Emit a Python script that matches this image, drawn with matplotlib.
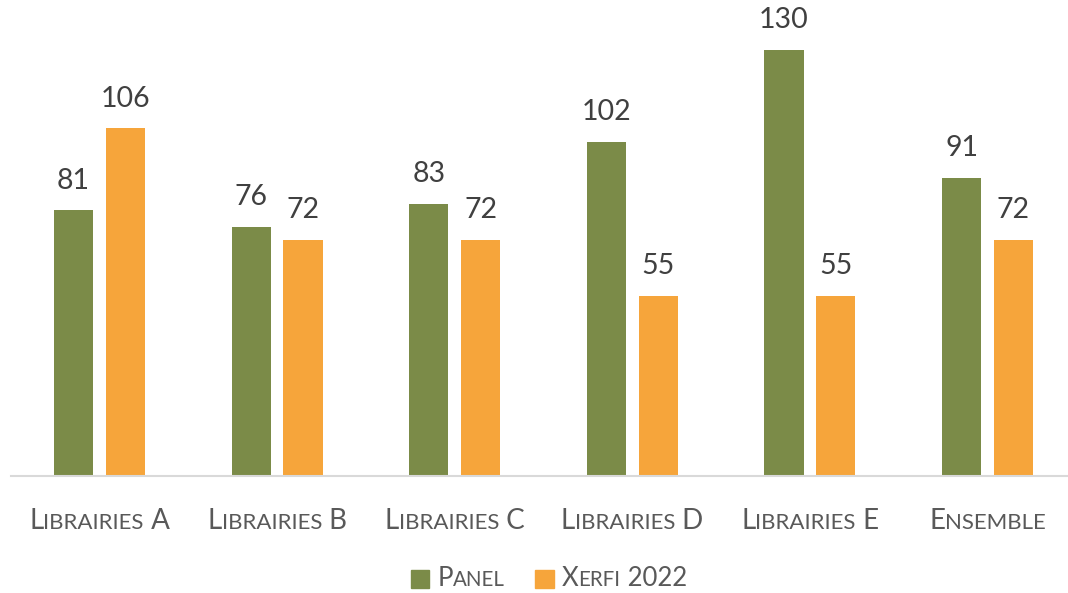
import matplotlib
matplotlib.use("Agg")
import matplotlib.pyplot as plt
import numpy as np
from matplotlib.offsetbox import TextArea, HPacker, DrawingArea, AnnotationBbox
from matplotlib.patches import Rectangle

plt.rcParams['font.family'] = ['Lato', 'DejaVu Sans']

categories = ["Librairies A", "Librairies B", "Librairies C", "Librairies D", "Librairies E", "Ensemble"]
panel = [81, 76, 83, 102, 130, 91]
xerfi = [106, 72, 72, 55, 55, 72]
series_names = ["Panel", "Xerfi 2022"]

green = "#7B8B48"
orange = "#F6A53B"
label_col = "#595959"
value_col = "#404040"


def smallcaps_parts(s, size, color):
    # fake small caps: capitals full size, lower case letters as smaller capitals
    parts = []
    run, run_low = "", None
    for ch in s:
        low = ch.islower()
        if ch == " ":
            low = False
        if run_low is None or low == run_low:
            run += ch
        else:
            parts.append((run, run_low))
            run = ch
        run_low = low
    parts.append((run, run_low))
    areas = []
    for txt, low in parts:
        fs = size * 0.8 if low else size
        areas.append(TextArea(txt.upper(), textprops=dict(fontsize=fs, color=color)))
    return areas


fig = plt.figure(figsize=(10.68, 5.93), dpi=100)
ax = fig.add_axes([0.01, 0.1973, 0.9978, 0.774])

x = np.arange(len(categories))
w = 0.22
off = 0.146
b1 = ax.bar(x - off, panel, w, color=green)
b2 = ax.bar(x + off, xerfi, w, color=orange)

for bars, vals in ((b1, panel), (b2, xerfi)):
    for r, v in zip(bars, vals):
        ax.annotate(str(v), (r.get_x() + r.get_width() / 2, v), xytext=(0, 12),
                    textcoords="offset points", ha="center", va="bottom",
                    fontsize=20.5, color=value_col)

ax.set_xlim(-0.5, len(categories) - 0.5)
ax.set_ylim(0, 140)
for sp in ["top", "right", "left"]:
    ax.spines[sp].set_visible(False)
ax.spines["bottom"].set_color("#D9D9D9")
ax.spines["bottom"].set_linewidth(1.5)
ax.set_yticks([])
ax.set_xticks([])

# category labels
for xi, cat in zip(x, categories):
    box = HPacker(children=smallcaps_parts(cat, 20, label_col), align="baseline", pad=0, sep=0)
    ab = AnnotationBbox(box, (xi, 0.122), xycoords=("data", "figure fraction"),
                        frameon=False, box_alignment=(0.5, 0.5), pad=0)
    ax.add_artist(ab)

# legend
items = []
for name, col in zip(series_names, [green, orange]):
    da = DrawingArea(13, 13, 0, 0)
    da.add_artist(Rectangle((0, 0), 13, 13, color=col))
    items.append(da)
    items.append(HPacker(children=smallcaps_parts(name, 18.5, label_col), align="baseline", pad=0, sep=0))
leg = HPacker(children=[HPacker(children=items[0:2], align="center", pad=0, sep=5),
                        HPacker(children=items[2:4], align="center", pad=0, sep=24)],
              align="center", pad=0, sep=24)
leg = HPacker(children=items[0:2], align="center", pad=0, sep=6)
leg2 = HPacker(children=items[2:4], align="center", pad=0, sep=6)
both = HPacker(children=[leg, leg2], align="center", pad=0, sep=22)
fig.add_artist(AnnotationBbox(both, (0.514, 0.024), xycoords="figure fraction",
                              frameon=False, box_alignment=(0.5, 0.5), pad=0))

fig.savefig("out.png", dpi=100)
